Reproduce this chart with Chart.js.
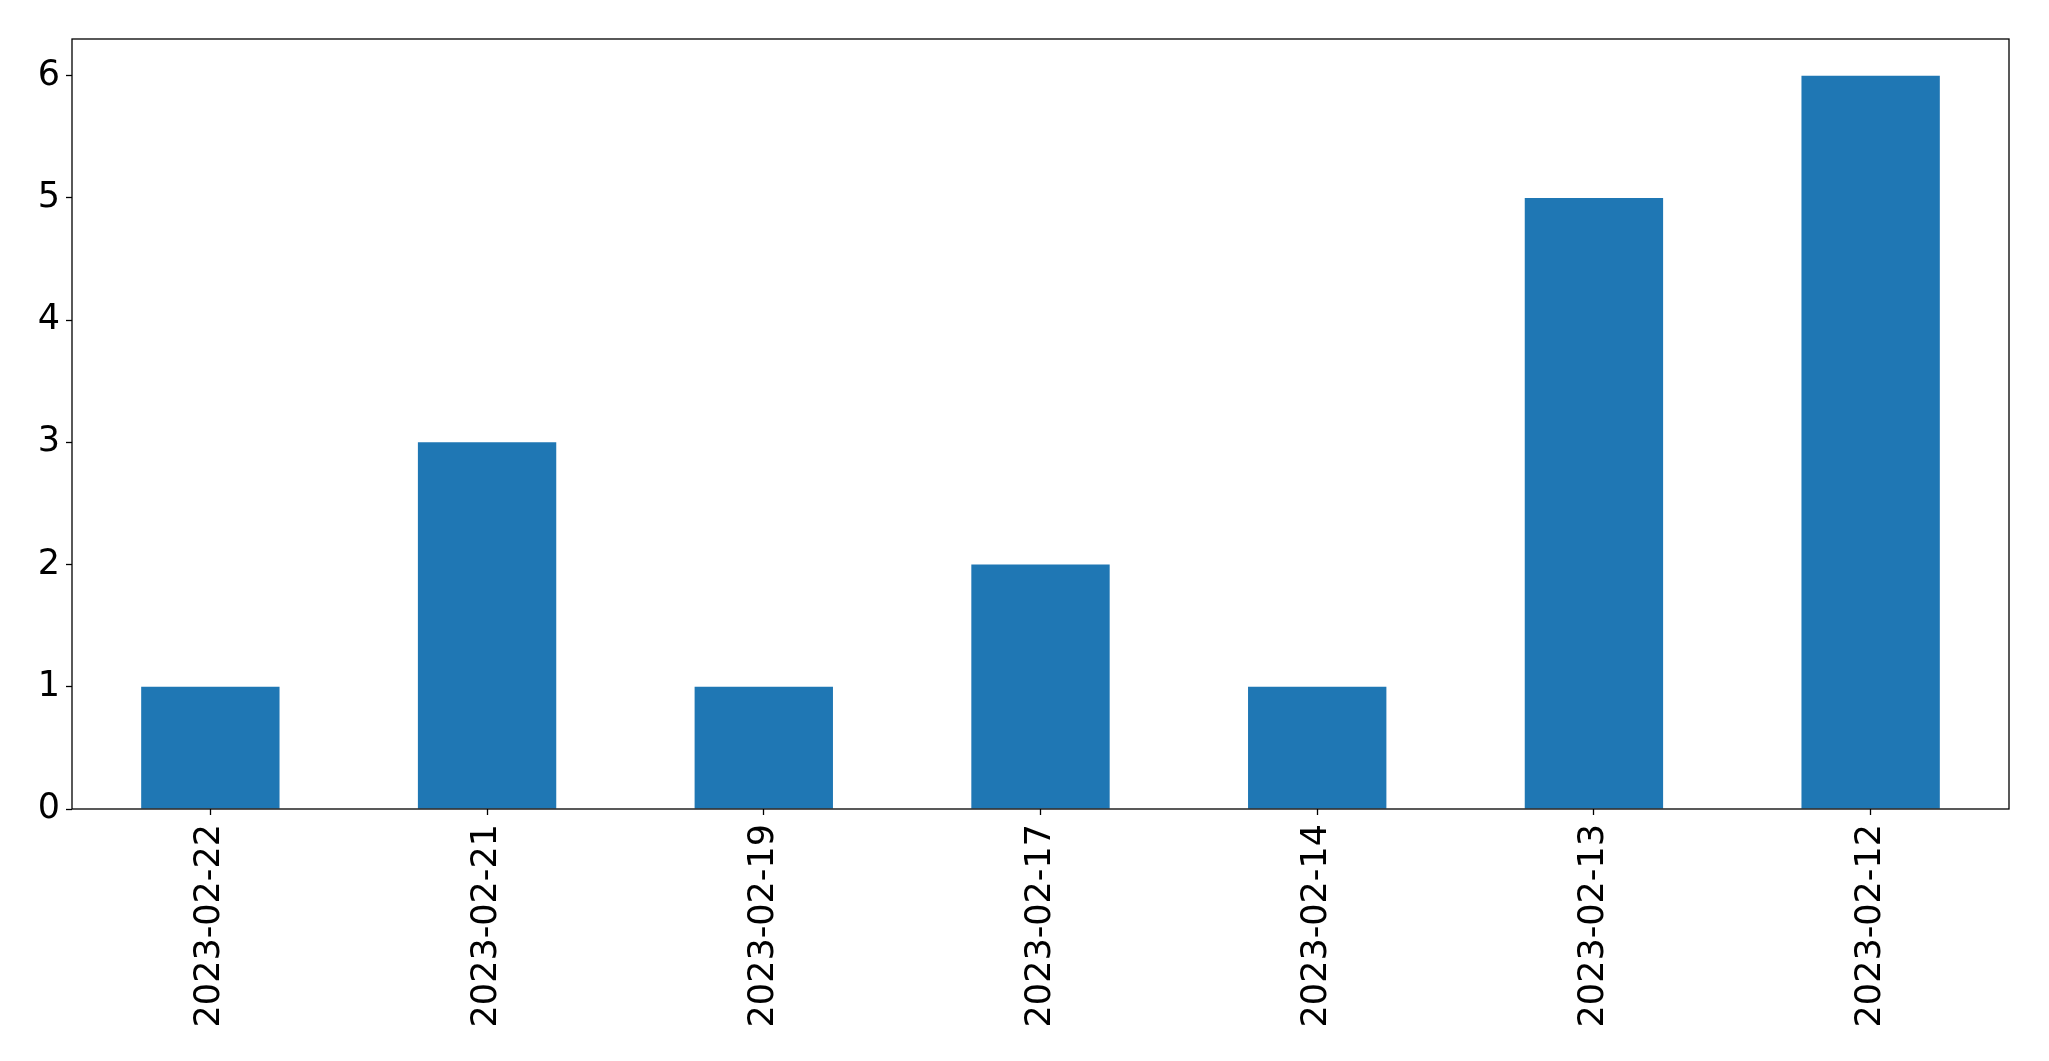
<!DOCTYPE html>
<html>
<head>
<meta charset="utf-8">
<script src="https://cdn.jsdelivr.net/npm/chart.js@4/dist/chart.umd.min.js"></script>
<style>
  html, body { margin: 0; padding: 0; background: #fff; }
  canvas { display: block; }
</style>
</head>
<body>
<canvas id="chart" width="2049" height="1061"></canvas>
<script>
const dates = ['2023-02-22', '2023-02-21', '2023-02-19', '2023-02-17', '2023-02-14', '2023-02-13', '2023-02-12'];
const counts = [1, 3, 1, 2, 1, 5, 6];
const yTicks = [0, 1, 2, 3, 4, 5, 6];
const yMax = 6.3;

const fontFamily = "'DejaVu Sans', sans-serif";

// draws the box around the plot like matplotlib spines
const frame = {
  id: 'frame',
  afterDraw(chart) {
    const { ctx, chartArea: a } = chart;
    ctx.save();
    ctx.strokeStyle = '#000';
    ctx.lineWidth = 1.3;
    ctx.strokeRect(a.left, a.top, a.right - a.left, a.bottom - a.top);
    ctx.restore();
  }
};

new Chart(document.getElementById('chart'), {
  type: 'bar',
  data: {
    labels: dates,
    datasets: [{
      data: counts,
      backgroundColor: '#1f77b4',
      borderWidth: 0,
      barPercentage: 0.5,
      categoryPercentage: 1.0
    }]
  },
  options: {
    responsive: false,
    animation: false,
    layout: { padding: { top: 39, right: 40, left: 0, bottom: 0 } },
    plugins: {
      legend: { display: false },
      tooltip: { enabled: false }
    },
    scales: {
      x: {
        offset: true,
        grid: { display: true, offset: false, drawOnChartArea: false, drawTicks: true, tickLength: 6, tickColor: '#000', tickWidth: 1.3 },
        border: { display: false },
        ticks: {
          color: '#000',
          font: { family: fontFamily, size: 35 },
          minRotation: 90,
          maxRotation: 90,
          autoSkip: false,
          padding: 9
        },
        afterFit(scale) { scale.height = 252; }
      },
      y: {
        min: 0,
        max: yMax,
        grid: { display: true, drawOnChartArea: false, drawTicks: true, tickLength: 6, tickColor: '#000', tickWidth: 1.3 },
        border: { display: false },
        ticks: {
          color: '#000',
          font: { family: fontFamily, size: 35 },
          padding: 6
        },
        afterBuildTicks(scale) { scale.ticks = yTicks.map(v => ({ value: v })); },
        afterFit(scale) { scale.width = 72; }
      }
    }
  },
  plugins: [frame]
});
</script>
</body>
</html>
